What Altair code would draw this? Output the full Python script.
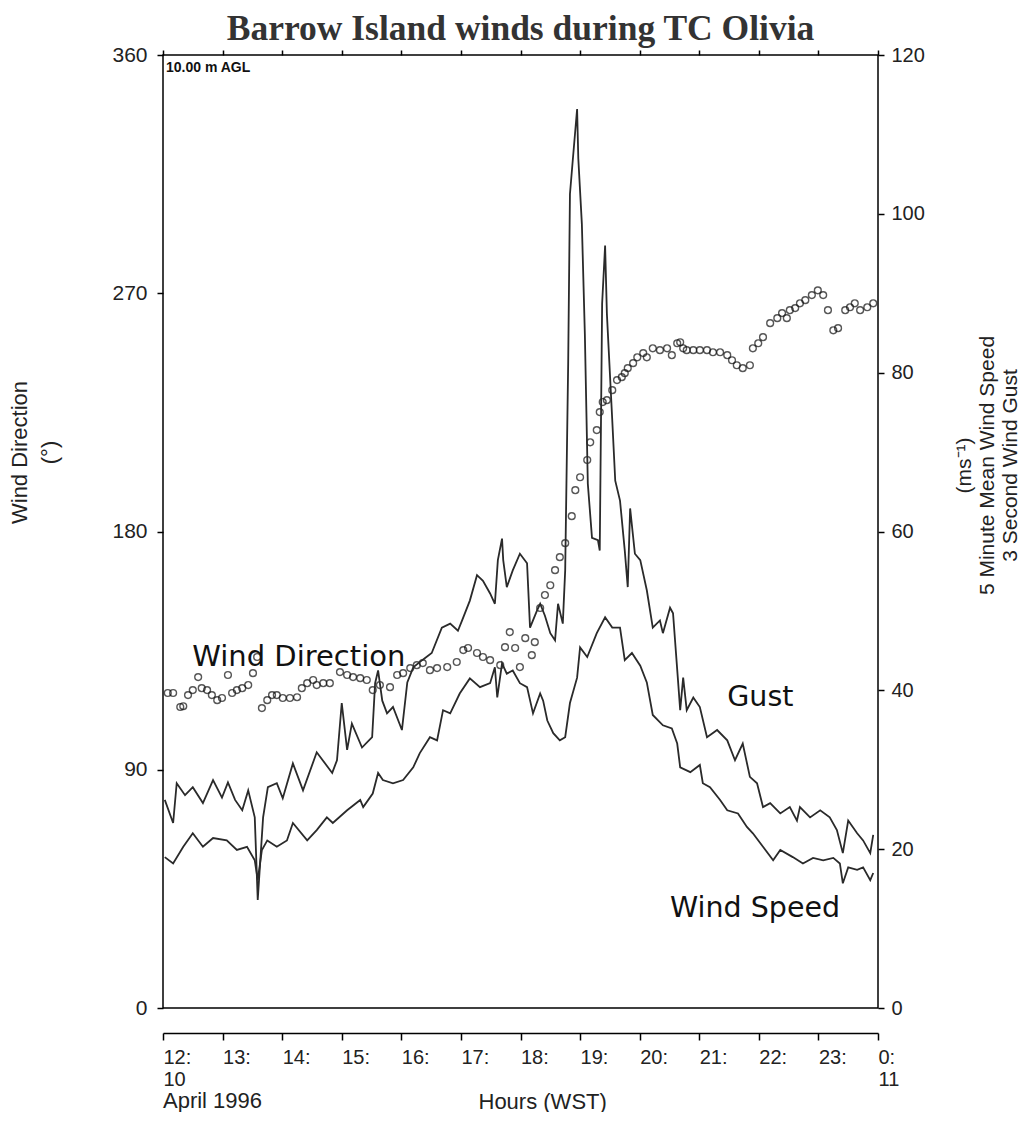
import altair as alt
import pandas as pd

# ---- data ----
gust_t = [12.03, 12.17, 12.23, 12.37, 12.50, 12.67, 12.84, 12.99, 13.09, 13.21, 13.33, 13.43, 13.54, 13.59,
          13.68, 13.76, 13.91, 14.01, 14.18, 14.35, 14.58, 14.84, 14.92, 15.00, 15.09, 15.17, 15.34, 15.51,
          15.56, 15.61, 15.68, 15.76, 15.86, 16.01, 16.10, 16.20, 16.35, 16.51, 16.68, 16.82, 16.95, 17.02,
          17.15, 17.27, 17.37, 17.49, 17.57, 17.62, 17.69, 17.71, 17.77, 17.87, 17.99, 18.11, 18.16, 18.28,
          18.33, 18.41, 18.50, 18.58, 18.63, 18.71, 18.75, 18.80, 18.83, 18.88, 18.95, 18.97, 19.03, 19.08,
          19.13, 19.20, 19.30, 19.33, 19.37, 19.42, 19.45, 19.54, 19.59, 19.67, 19.75, 19.80, 19.84, 19.92,
          20.01, 20.12, 20.22, 20.34, 20.39, 20.51, 20.56, 20.64, 20.68, 20.73, 20.79, 20.90, 21.01, 21.13,
          21.30, 21.47, 21.60, 21.73, 21.85, 21.97, 22.07, 22.19, 22.36, 22.52, 22.64, 22.69, 22.86, 23.03,
          23.19, 23.31, 23.41, 23.50, 23.65, 23.75, 23.87, 23.92]
gust_v = [26.2, 23.3, 28.3, 26.8, 27.8, 25.8, 28.7, 26.5, 28.4, 26.2, 24.9, 27.4, 24.0, 13.6,
          24.0, 27.8, 28.3, 26.4, 30.8, 27.4, 32.2, 29.6, 31.2, 38.4, 32.5, 35.8, 32.8, 34.1,
          40.9, 42.5, 38.7, 37.1, 37.9, 35.0, 41.0, 42.9, 43.8, 44.7, 47.9, 48.4, 47.5, 48.8,
          51.3, 54.5, 53.8, 52.2, 50.9, 56.4, 59.1, 56.4, 53.0, 55.1, 57.2, 56.0, 47.9, 50.1,
          50.9, 49.4, 47.2, 46.3, 50.9, 48.4, 55.1, 81.1, 102.5, 107.0, 113.2, 107.0, 98.7, 84.9,
          66.0, 59.2, 58.9, 57.6, 88.7, 96.0, 87.4, 74.0, 66.4, 63.9, 57.6, 53.0, 62.9, 57.2,
          56.4, 52.6, 47.9, 48.8, 47.2, 50.4, 49.7, 41.6, 37.5, 41.6, 37.5, 39.1, 37.9, 34.1,
          35.0, 33.7, 31.2, 33.3, 29.1, 28.3, 25.3, 25.8, 24.5, 25.3, 23.6, 25.3, 24.0, 24.9,
          24.0, 22.4, 19.5, 23.6, 22.0, 21.1, 19.5, 21.8]

speed_t = [12.03, 12.17, 12.34, 12.50, 12.67, 12.84, 13.07, 13.24, 13.41, 13.54, 13.59, 13.66, 13.75, 13.91,
           14.08, 14.18, 14.42, 14.58, 14.75, 14.85, 15.09, 15.31, 15.36, 15.52, 15.61, 15.69, 15.86, 16.03,
           16.20, 16.31, 16.48, 16.60, 16.70, 16.82, 16.98, 17.15, 17.32, 17.49, 17.57, 17.61, 17.69, 17.77,
           17.87, 17.99, 18.11, 18.21, 18.33, 18.38, 18.45, 18.55, 18.66, 18.75, 18.83, 18.95, 19.00, 19.12,
           19.28, 19.42, 19.54, 19.67, 19.75, 19.87, 20.01, 20.12, 20.22, 20.39, 20.54, 20.63, 20.68, 20.85,
           21.01, 21.06, 21.18, 21.35, 21.47, 21.65, 21.80, 21.90, 22.07, 22.24, 22.36, 22.57, 22.74, 22.91,
           23.08, 23.25, 23.36, 23.41, 23.50, 23.65, 23.75, 23.87, 23.92]
speed_v = [19.0, 18.2, 20.3, 22.0, 20.3, 21.4, 21.1, 19.9, 20.3, 18.6, 16.1, 19.9, 21.1, 20.3,
           21.1, 23.3, 21.1, 22.4, 24.0, 23.3, 24.9, 26.2, 25.3, 27.0, 29.6, 28.7, 28.3, 28.7,
           30.3, 32.1, 34.1, 33.7, 37.5, 37.1, 39.6, 41.5, 40.4, 40.9, 42.9, 39.1, 43.4, 42.1,
           42.5, 40.9, 40.4, 37.1, 39.6, 38.7, 36.2, 34.6, 33.7, 34.1, 38.4, 41.6, 45.4, 44.2,
           47.2, 49.2, 47.9, 47.9, 43.8, 44.7, 43.1, 41.0, 36.9, 35.6, 35.2, 33.3, 30.3, 29.7,
           30.6, 28.3, 27.8, 26.2, 24.9, 24.5, 22.8, 22.0, 20.3, 18.6, 19.9, 19.0, 18.2, 18.9,
           18.6, 18.9, 18.2, 15.7, 17.7, 17.4, 17.7, 16.1, 17.0]

dir_t = [12.08, 12.17, 12.29, 12.34, 12.42, 12.50, 12.59, 12.65, 12.74, 12.82, 12.91, 12.99, 13.09, 13.16,
         13.24, 13.33, 13.43, 13.51, 13.58, 13.66, 13.75, 13.83, 13.91, 14.01, 14.13, 14.25, 14.33, 14.42,
         14.52, 14.58, 14.69, 14.80, 14.97, 15.09, 15.19, 15.31, 15.42, 15.52, 15.64, 15.81, 15.93, 16.03,
         16.15, 16.26, 16.36, 16.48, 16.60, 16.77, 16.93, 17.04, 17.12, 17.27, 17.37, 17.49, 17.66, 17.74,
         17.82, 17.91, 17.99, 18.08, 18.19, 18.24, 18.33, 18.41, 18.50, 18.58, 18.66, 18.75, 18.86, 18.92,
         19.00, 19.12, 19.17, 19.28, 19.33, 19.38, 19.45, 19.54, 19.62, 19.70, 19.75, 19.80, 19.89, 19.96,
         20.06, 20.12, 20.22, 20.34, 20.46, 20.54, 20.63, 20.68, 20.73, 20.79, 20.90, 21.01, 21.13, 21.23,
         21.35, 21.47, 21.55, 21.63, 21.73, 21.85, 21.90, 21.99, 22.07, 22.19, 22.31, 22.39, 22.47, 22.52,
         22.61, 22.69, 22.78, 22.89, 22.99, 23.08, 23.16, 23.25, 23.33, 23.45, 23.53, 23.61, 23.70, 23.82,
         23.92]
dir_v = [119.0, 119.0, 113.7, 114.0, 118.2, 120.1, 125.0, 120.8, 120.1, 118.2, 116.3, 117.1, 125.8, 119.0,
         120.1, 120.8, 122.0, 126.5, 132.6, 113.3, 116.3, 118.2, 118.2, 117.1, 117.1, 117.4, 120.8, 122.7,
         123.9, 122.0, 122.7, 122.7, 126.9, 125.8, 125.0, 124.6, 123.9, 120.1, 122.0, 121.2, 125.8, 126.5,
         128.4, 129.5, 130.3, 127.6, 128.4, 128.8, 130.7, 135.2, 136.0, 134.1, 132.6, 131.4, 129.5, 136.3,
         142.0, 136.0, 128.8, 139.7, 133.3, 138.2, 151.1, 156.0, 159.7, 165.4, 170.3, 175.6, 185.8, 195.6,
         200.5, 207.0, 213.7, 218.3, 225.1, 228.9, 229.6, 233.4, 237.2, 238.3, 239.8, 241.7, 243.6, 245.8,
         247.4, 245.8, 249.2, 248.5, 249.2, 246.6, 251.1, 251.5, 249.2, 248.5, 248.5, 248.5, 248.5, 247.7,
         247.7, 246.6, 244.7, 242.8, 241.7, 242.8, 249.2, 251.1, 253.4, 258.7, 260.6, 262.5, 260.6, 263.6,
         264.4, 266.2, 267.4, 269.3, 271.1, 269.3, 263.6, 256.0, 256.8, 263.6, 264.7, 266.2, 263.6, 264.7,
         266.2]

hour_ticks = list(range(12, 25))
dir_ticks = [0, 90, 180, 270, 360]
ms_ticks = [0, 20, 40, 60, 80, 100, 120]

dir_title = ["Wind Direction", "(°)"]
ms_title = ["(ms⁻¹)", "5 Minute Mean Wind Speed", "3 Second Wind Gust"]

dir_labels = pd.DataFrame({"hour": [12.49], "dir": [132.5], "label": ["Wind Direction"]})
agl_label = pd.DataFrame({"hour": [12.05], "dir": [355.0], "label": ["10.00 m AGL"]})
ms_labels = pd.DataFrame({"hour": [21.47, 20.51], "ms": [39.1, 12.6], "label": ["Gust", "Wind Speed"]})
date_label = pd.DataFrame({"hour": [12.0], "label": ["April 1996"]})

# ---- chart ----
W, H = 715, 953
AXF = "Liberation Sans"
TXT = "#222"

x_scale = alt.Scale(domain=[12, 24], nice=False, zero=False)
dir_scale = alt.Scale(domain=[0, 360], nice=False)
ms_scale = alt.Scale(domain=[0, 120], nice=False)

dir_df = pd.DataFrame({"hour": dir_t, "dir": dir_v})
lines_df = pd.concat([
    pd.DataFrame({"hour": gust_t, "ms": gust_v, "series": "Gust"}),
    pd.DataFrame({"hour": speed_t, "ms": speed_v, "series": "Wind Speed"}),
], ignore_index=True)

x_top = alt.X("hour:Q", scale=x_scale, axis=alt.Axis(
    orient="top", values=hour_ticks, labels=False, domain=False, grid=False,
    tickSize=5, tickWidth=1.5, tickColor="black", title=None))
x_none = alt.X("hour:Q", scale=x_scale, axis=None)

y_dir = alt.Y("dir:Q", scale=dir_scale, axis=alt.Axis(
    orient="left", values=dir_ticks, grid=False, domain=False,
    tickSize=6, tickWidth=1.5, tickColor="black",
    labelFont=AXF, labelFontSize=21, labelColor=TXT, labelPadding=10, labelFlush=False,
    title=dir_title, titleFont=AXF, titleFontSize=22, titleFontWeight="normal", titleColor=TXT,
    titleY=397, titlePadding=50, titleLineHeight=30))
y_dir_none = alt.Y("dir:Q", scale=dir_scale, axis=None)

points = alt.Chart(dir_df).mark_point(
    shape="circle", filled=False, size=46, stroke="#111", strokeWidth=1.4
).encode(x=x_top, y=y_dir)

dir_text = alt.Chart(dir_labels).mark_text(
    font="DejaVu Sans", fontSize=29, color="#111", align="left", baseline="middle"
).encode(x=x_none, y=y_dir_none, text="label:N")

agl_text = alt.Chart(agl_label).mark_text(
    font=AXF, fontSize=14, fontWeight="bold", color="#111", align="left", baseline="middle"
).encode(x=x_none, y=y_dir_none, text="label:N")

x_bottom = alt.X("hour:Q", scale=x_scale, axis=alt.Axis(
    orient="bottom", offset=25, values=hour_ticks, grid=False,
    domainColor="black", domainWidth=1.5,
    tickSize=7, tickWidth=1.5, tickColor="black",
    labelExpr="datum.value == 12 ? ['12:', '10'] : datum.value == 24 ? ['0:', '11'] : datum.value + ':'",
    labelAlign="left", labelBaseline="top", labelPadding=7, labelLineHeight=22,
    labelFont=AXF, labelFontSize=20, labelColor=TXT, labelFlush=False, labelOverlap=False,
    title="Hours (WST)", titleFont=AXF, titleFontSize=22, titleFontWeight="normal", titleColor=TXT,
    titleAlign="left", titleX=315, titleY=68, titleBaseline="middle"))

y_ms = alt.Y("ms:Q", scale=ms_scale, axis=alt.Axis(
    orient="right", values=ms_ticks, grid=False, domain=False,
    tickSize=6, tickWidth=1.5, tickColor="black",
    labelFont=AXF, labelFontSize=20, labelColor=TXT, labelPadding=7, labelFlush=False,
    title=ms_title, titleFont=AXF, titleFontSize=21, titleFontWeight="normal", titleColor=TXT,
    titleAngle=-90, titleY=410, titlePadding=4, titleLineHeight=23))
y_ms_none = alt.Y("ms:Q", scale=ms_scale, axis=None)

lines = alt.Chart(lines_df).mark_line(color="#2a2a2a", strokeWidth=1.8).encode(
    x=x_bottom, y=y_ms, detail="series:N")

ms_text = alt.Chart(ms_labels).mark_text(
    font="DejaVu Sans", fontSize=28.5, color="#111", align="left", baseline="middle"
).encode(x=x_none, y=y_ms_none, text="label:N")

date_text = alt.Chart(date_label).mark_text(
    font=AXF, fontSize=22, color=TXT, align="left", baseline="middle"
).encode(x=x_none, y=alt.value(H + 25 + 68), text="label:N")

chart = alt.layer(points, lines, dir_text, agl_text, ms_text, date_text).resolve_scale(
    y="independent"
).resolve_axis(
    x="independent", y="independent"
).properties(
    width=W, height=H,
    autosize=alt.AutoSizeParams(type="none"),
    padding={"top": 47, "left": 155, "right": 143, "bottom": 104},
    background="white",
    title=alt.TitleParams(
        "Barrow Island winds during TC Olivia", font="Liberation Serif", fontSize=35.5,
        fontWeight="bold", color="#333", anchor="middle", frame="group", offset=-3),
).configure_view(stroke="black", strokeWidth=1.5)

chart.save("out.html", embed_options={"renderer": "svg", "actions": False})
